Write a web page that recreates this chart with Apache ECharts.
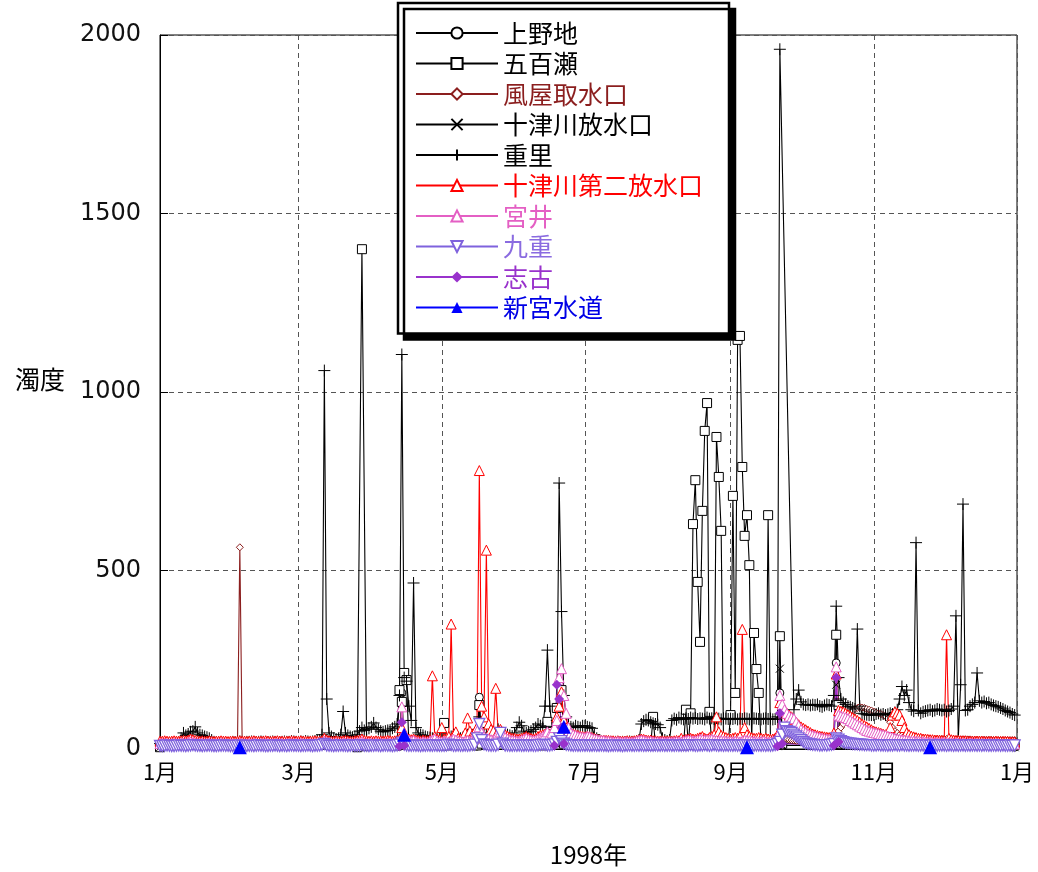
<!DOCTYPE html>
<html><head><meta charset="utf-8">
<script src="https://cdn.jsdelivr.net/npm/echarts@6/dist/echarts.min.js"></script>
<style>html,body{margin:0;padding:0;background:#fff}#c{width:1038px;height:872px}</style>
</head><body><div id="c"></div>
<script>
// ---------- data ----------
const seriesNames = ['上野地','五百瀬','風屋取水口','十津川放水口','重里','十津川第二放水口','宮井','九重','志古','新宮水道'];
const yTicks = [0, 500, 1000, 1500, 2000];
const yearLabel = '1998年';
const yName = '濁度';

// daily series (one array per month, Jan..Dec 1998)
const shigesato = [
 [15,15,16,15,16,15,16,17,18,30,45,38,42,48,50,62,45,40,38,35,33,30,25,20,18,17,16,16,15,15,16],
 [20,19,20,21,20,19,20,20,21,20,19,20,21,20,20,19,20,21,20,20,19,20,21,20,20,22,21,20],
 [20,21,20,22,21,20,21,22,23,25,40,1060,140,45,35,30,28,30,40,105,45,38,35,33,35,40,50,60,52,55,58],
 [62,73,60,55,50,48,50,52,53,58,62,70,150,1105,200,190,120,80,465,60,45,40,38,35,33,32,30,30,28,28],
 [28,30,32,30,35,40,35,32,30,32,35,40,38,35,40,55,90,60,45,40,38,35,40,45,55,50,45,42,40,38,36],
 [45,60,75,65,50,45,48,50,55,60,70,65,60,120,277,120,60,45,80,745,385,150,90,70,62,60,65,62,60,65],
 [65,62,60,58,40,30,25,22,20,20,19,20,19,20,20,19,20,19,20,21,20,20,22,25,70,78,82,80,75,72,70],
 [68,60,30,25,22,25,80,85,82,88,85,83,86,84,88,85,87,84,86,85,83,88,85,86,84,87,85,83,86,85,84],
 [85,84,86,83,85,84,86,85,83,84,86,85,84,83,85,86,84,85,83,84,90,1960,null,null,null,null,null,110,140,165],
 [132,125,123,125,122,124,123,125,120,118,122,125,123,120,150,400,200,140,130,125,120,118,115,112,336,120,100,98,96,95,95],
 [95,98,100,96,98,95,97,100,98,102,110,140,175,150,165,130,110,106,578,108,100,104,106,108,110,106,108,112,110,108],
 [110,105,108,112,120,373,30,180,686,108,110,120,125,130,213,135,130,133,128,130,125,122,120,118,115,112,108,105,102,98,95]
];
const tsu2 = [
 [22,22,23,22,21,22,23,22,22,23,24,23,25,28,26,24,23,22,23,22,22,23,22,21,22,22,23,22,22,21,22],
 [22,21,22,23,22,22,21,22,22,23,22,21,22,22,23,22,21,22,22,23,22,22,21,22,22,23,22,22],
 [22,23,22,22,21,22,22,23,22,22,23,30,25,23,22,22,23,22,22,23,24,23,22,22,23,24,25,28,24,23,22],
 [23,22,23,22,23,22,23,24,23,22,23,24,28,60,40,32,28,26,28,25,24,23,25,24,23,26,205,35,28,26],
 [60,28,30,35,350,40,48,30,28,30,45,87,50,40,45,60,780,120,90,557,70,55,50,170,50,55,48,40,36,32,30],
 [30,28,28,30,32,35,32,30,28,30,35,38,40,42,45,42,45,60,90,120,160,80,60,50,45,42,40,38,36,35],
 [34,36,34,32,30,28,26,25,25,24,24,23,23,22,23,22,22,22,23,22,22,23,24,26,28,27,25,24,25,23,23],
 [22,22,23,22,22,23,22,23,24,23,30,25,27,28,30,28,27,30,32,35,30,28,32,35,40,90,48,38,35,32,30],
 [28,30,32,30,35,335,60,40,35,32,30,30,32,30,28,30,28,27,28,30,40,130,115,105,100,95,90,82,75,68],
 [62,58,54,50,46,42,40,38,36,35,34,33,32,33,45,210,108,106,104,100,96,92,88,84,80,75,70,66,62,58,54],
 [50,48,46,44,42,40,42,60,95,104,100,95,80,60,45,40,36,34,32,30,30,28,28,27,26,26,25,25,25,24],
 [24,320,30,26,25,24,24,23,23,23,22,22,22,22,22,22,22,21,21,21,21,21,22,21,21,21,21,21,20,20,20]
];
const miyai = [
 [15,15,16,15,14,15,16,15,15,16,17,16,18,20,18,17,16,15,16,15,15,16,15,14,15,15,16,15,15,14,15],
 [15,14,15,16,15,15,14,15,15,16,15,14,15,15,16,15,14,15,15,16,15,15,14,15,15,16,15,15],
 [15,16,15,15,14,15,15,16,15,15,16,22,18,16,15,15,16,15,15,16,17,16,15,15,16,17,18,20,17,16,15],
 [16,15,16,15,16,15,16,17,16,15,16,17,20,118,45,30,25,22,24,20,19,18,20,19,18,22,25,28,22,20],
 [20,22,21,20,24,28,25,22,21,20,22,24,22,25,30,40,62,45,35,30,28,26,25,30,45,48,40,32,28,25,24],
 [23,22,22,25,28,30,27,25,24,25,28,30,35,40,48,40,45,60,80,200,225,150,100,60,45,40,38,35,34,33],
 [32,35,34,30,28,27,25,24,24,22,22,21,20,20,21,20,19,20,20,19,19,20,22,24,25,24,22,21,22,20,20],
 [20,19,20,19,19,20,19,20,21,20,20,22,24,25,24,22,23,25,27,26,25,26,25,27,25,24,23,24,22,22,21],
 [21,20,22,21,20,22,25,24,23,22,21,20,20,21,22,20,19,20,21,22,35,150,125,110,100,92,88,85,75,65],
 [55,50,46,42,40,38,36,34,32,30,29,28,27,27,35,230,95,92,90,88,85,80,76,72,68,64,60,56,52,50,48],
 [46,45,43,41,40,38,36,34,32,30,28,27,26,25,24,23,22,22,21,21,20,20,19,19,19,18,18,18,18,18],
 [18,18,17,17,17,17,17,16,16,16,16,16,16,16,15,15,15,15,15,15,15,15,15,15,14,14,14,14,14,14,14]
];
const kokonoe = [
 [9,8,9,10,9,8,8,9,10,9,9,8,9,10,11,10,9,9,8,9,9,10,9,8,8,9,9,10,9,9,8],
 [8,9,9,10,9,8,8,9,9,8,9,10,9,9,8,8,9,9,10,9,8,9,9,8,9,10,9,9],
 [9,8,9,9,10,9,8,9,9,10,11,14,10,9,9,8,9,9,10,9,9,8,9,10,9,9,10,11,9,9,8],
 [9,9,10,9,8,9,10,9,9,8,9,10,12,18,12,10,9,9,10,9,9,8,9,9,10,9,9,10,9,9],
 [9,9,10,12,11,9,9,10,9,9,10,9,10,11,12,30,70,25,13,11,10,9,10,9,12,45,15,10,10,9,9],
 [10,9,10,9,9,10,9,10,9,9,10,11,12,11,10,10,11,13,20,30,22,15,12,11,10,9,10,9,9,10],
 [9,10,9,9,10,9,9,10,9,9,8,9,9,10,9,9,8,9,9,10,9,9,10,9,10,9,9,10,9,9,10],
 [9,9,10,9,9,10,9,9,10,9,9,10,9,10,11,10,9,9,10,10,11,10,9,10,11,10,9,10,9,10,9],
 [10,9,10,9,10,9,10,11,10,9,9,10,10,9,10,9,10,9,10,11,14,20,40,60,50,48,45,40,35,30],
 [25,20,16,14,13,12,11,11,10,10,11,10,11,12,14,30,26,22,19,17,16,15,14,13,13,12,12,11,11,11,10],
 [10,10,11,10,10,10,9,10,10,11,10,10,11,10,10,9,10,10,10,9,10,10,9,10,9,10,10,9,10,10],
 [10,9,10,10,9,10,9,10,10,9,10,9,10,10,9,10,9,10,10,9,9,10,9,10,9,10,9,9,10,9,10]
];
const kazeya = [
 [12,12,13,12,12,13,12,12,13,12,13,14,13,15,14,13,12,12,13,12,12,13,12,12,12,13,12,12,12,13,12],
 [12,12,13,565,14,12,12,13,12,12,12,13,12,12,12,13,12,12,12,13,12,12,12,13,12,12,12,13],
 [12,12,13,12,12,12,13,12,12,13,14,18,15,13,12,12,13,12,14,15,13,12,12,13,13,14,15,16,14,13,13],
 [13,13,14,13,13,13,14,13,13,14,14,15,18,30,22,18,16,15,16,15,14,14,15,14,14,15,18,16,15,14],
 [14,15,15,16,20,17,16,15,15,15,16,18,17,16,17,20,30,22,20,25,18,17,17,20,18,18,17,16,16,15,15],
 [15,15,15,16,16,17,16,16,15,16,16,17,17,18,20,18,18,20,25,35,30,25,22,20,19,18,18,17,17,17],
 [17,17,16,16,16,15,15,15,15,15,14,14,14,14,14,14,14,14,14,14,14,14,15,15,16,16,15,15,15,15,15],
 [15,15,15,15,15,15,15,15,15,15,16,16,16,16,17,17,17,17,17,18,18,18,18,18,19,20,19,19,18,18,18],
 [18,18,18,18,18,20,19,19,18,18,18,18,18,18,18,18,18,18,18,18,20,40,35,30,28,26,25,24,23,22],
 [21,21,20,20,20,20,19,19,19,19,19,19,19,19,20,45,50,60,70,80,90,100,108,112,115,118,116,115,112,110,108],
 [105,102,100,98,95,92,85,75,60,50,45,40,38,36,35,34,33,32,31,30,30,30,29,29,29,28,28,28,28,28],
 [28,28,28,28,27,27,27,27,27,27,27,27,26,26,26,26,26,26,26,26,26,25,25,25,25,25,25,25,25,25,25]
];

// sparse series ['MM-DD', value]; null = no measurement (line break)
const uenoji = [['01-01',5],['04-13',8],['04-14',157],['04-15',10],['05-16',8],['05-17',145],['05-18',10],
 ['09-21',10],['09-22',157],['09-23',10],['10-15',10],['10-16',241],['10-17',15],['12-31',5]];
const iose = [['01-01',5],['03-26',5],['03-28',1400],['03-30',8],['04-12',10],['04-13',165],['04-14',132],
 ['04-15',213],['04-16',193],['04-17',12],['05-01',10],['05-02',73],['05-03',10],['05-16',10],['05-17',123],
 ['05-18',15],['06-13',10],['06-15',76],['06-16',12],['06-19',115],['06-21',165],['06-22',15],['07-29',10],
 ['07-30',90],['07-31',12],['08-12',10],['08-13',110],['08-14',12],['08-15',100],['08-16',630],['08-17',753],
 ['08-18',468],['08-19',300],['08-20',667],['08-21',891],['08-22',969],['08-23',104],['08-24',15],['08-25',20],
 ['08-26',874],['08-27',762],['08-28',611],['08-29',20],['08-31',15],['09-01',95],['09-02',709],['09-03',157],
 ['09-04',1146],['09-05',1157],['09-06',790],['09-07',597],['09-08',655],['09-09',515],['09-10',20],['09-11',325],
 ['09-12',224],['09-13',157],['09-14',15],['09-16',15],['09-17',655],['09-18',15],['09-21',15],['09-22',316],
 ['09-23',15],['10-15',15],['10-16',320],['10-17',123],['10-18',15],['12-31',12]];
const tsu1 = [['01-01',5],['09-21',8],['09-22',225],['09-23',10],['10-15',10],['10-16',180],['10-17',10],['12-31',5]];
const shiko = [['04-13',8],['04-14',75],['04-15',10],['06-18',10],['06-19',180],['06-20',140],['06-21',60],
 ['06-22',15],['09-21',8],['09-22',100],['09-23',15],['10-15',10],['10-16',200],['10-17',20]];
const shingu = [['02-04',5],['03-01',null],['04-15',40],['05-01',null],['06-22',62],['07-01',null],
 ['09-08',5],['10-01',null],['11-25',5]];

// ---------- build ----------
function daily(months){
  const out=[];
  months.forEach((arr,m)=>arr.forEach((v,i)=>out.push([new Date(1998,m,i+1).getTime(), v])));
  return out;
}
function sparse(list){
  return list.map(([md,v])=>{const p=md.split('-').map(Number);return [new Date(1998,p[0]-1,p[1]).getTime(), v];});
}
const P_X = 'path://M0,0L10,10M10,0L0,10';
const P_PLUS = 'path://M5,0L5,10M0,5L10,5';
const styles = [
  {c:'#000000', sym:'circle', sz:8},
  {c:'#000000', sym:'rect', sz:9},
  {c:'#8B1E1E', sym:'diamond', sz:7},
  {c:'#000000', sym:P_X, sz:8},
  {c:'#000000', sym:P_PLUS, sz:12},
  {c:'#FF0000', sym:'triangle', sz:10},
  {c:'#E45FC4', sym:'triangle', sz:10},
  {c:'#7F62DD', sym:'triangle', sz:11, rot:180, bw:1.3},
  {c:'#9932CC', sym:'diamond', sz:10, filled:true},
  {c:'#0000FF', sym:'triangle', sz:14, filled:true, noConnect:true}
];
const textColors = ['#000','#000','#8B1E1E','#000','#000','#FF0000','#E45FC4','#8A6BE0','#9932CC','#0000E6'];
const allData = [sparse(uenoji), sparse(iose), daily(kazeya), sparse(tsu1), daily(shigesato),
                 daily(tsu2), daily(miyai), daily(kokonoe), sparse(shiko), sparse(shingu)];

const series = seriesNames.map((n,i)=>{
  const s = styles[i];
  return {
    name:n, type:'line', data:allData[i], showAllSymbol:true, connectNulls:!s.noConnect,
    symbol:s.sym, symbolSize:s.sz, symbolRotate:s.rot||0,
    lineStyle:{color:s.c, width:1.1},
    itemStyle: s.filled ? {color:s.c, borderColor:s.c, borderWidth:0}
                        : {color:'#fff', borderColor:s.c, borderWidth:s.bw||1},
    emphasis:{disabled:true}
  };
});

const chart = echarts.init(document.getElementById('c'), null, {renderer:'canvas'});
chart.setOption({
  animation:false,
  textStyle:{fontFamily:'Noto Sans CJK JP'},
  grid:{left:160, right:21, top:35, bottom:123, outerBoundsMode:'none', containLabel:false,
        show:true, borderColor:'#000', borderWidth:1, backgroundColor:'transparent'},
  legend:{
    orient:'vertical', left:398, top:3,
    padding:[16,26,12,17],
    itemWidth:82, itemHeight:14, itemGap:2.5,
    backgroundColor:'#fff', borderColor:'#000', borderWidth:2.5,
    shadowColor:'#000', shadowBlur:0, shadowOffsetX:6, shadowOffsetY:6,
    textStyle:{fontSize:25, fontFamily:'Noto Sans CJK JP', lineHeight:28},
    data: seriesNames.map((n,i)=>({name:n, textStyle:{color:textColors[i]}}))
  },
  xAxis:{
    type:'time', min:new Date(1998,0,1).getTime(), max:new Date(1999,0,1).getTime(),
    splitNumber:6,
    name:yearLabel, nameLocation:'middle', nameGap:94,
    nameTextStyle:{fontSize:24, color:'#000', fontFamily:'Noto Sans CJK JP'},
    axisLine:{lineStyle:{color:'#000', width:1}},
    axisTick:{show:true, inside:true, length:6, lineStyle:{color:'#000'}},
    axisLabel:{fontSize:22, color:'#000', margin:12, fontFamily:'Noto Sans CJK JP',
      showMinLabel:true, showMaxLabel:true, hideOverlap:false,
      formatter:(v)=>(new Date(v).getMonth()+1)+'月'},
    splitLine:{show:true, lineStyle:{color:'#555', type:[5,4], width:1}},
    minorTick:{show:false}
  },
  yAxis:{
    type:'value', min:yTicks[0], max:yTicks[yTicks.length-1], interval:500,
    name:yName, nameLocation:'middle', nameRotate:0, nameGap:95,
    nameTextStyle:{fontSize:25, color:'#000', fontFamily:'Noto Sans CJK JP', verticalAlign:'bottom'},
    axisLine:{show:true, lineStyle:{color:'#000', width:1}},
    axisTick:{show:true, inside:true, length:8, lineStyle:{color:'#000'}},
    axisLabel:{fontSize:24, color:'#111', margin:19, fontFamily:'DejaVu Sans', formatter:(v)=>String(v)},
    splitLine:{show:true, lineStyle:{color:'#555', type:[5,4], width:1}}
  },
  series: series
});
</script></body></html>
